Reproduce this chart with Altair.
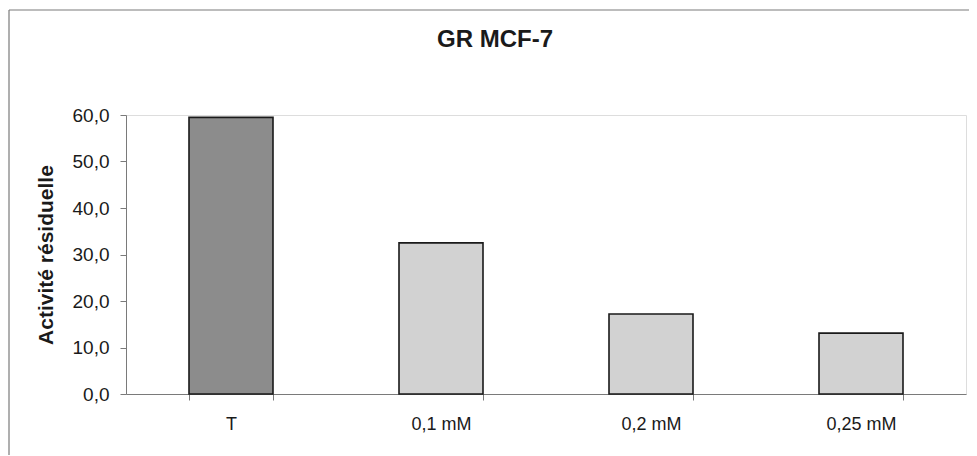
import altair as alt
import pandas as pd

categories = ["T", "0,1 mM", "0,2 mM", "0,25 mM"]
values = [59.5, 32.5, 17.2, 13.1]
fill_colors = ["#8c8c8c", "#d2d2d2", "#d2d2d2", "#d2d2d2"]
y_ticks = [0, 10, 20, 30, 40, 50, 60]

df = pd.DataFrame({"cat": categories, "val": values})
FONT = "Liberation Sans"

bars = alt.Chart(df).mark_bar(stroke="#1a1a1a", strokeWidth=1.6).encode(
    x=alt.X("cat:N", sort=categories,
            scale=alt.Scale(paddingInner=0.6, paddingOuter=0.3),
            axis=alt.Axis(title=None, labelAngle=0, tickBand="extent",
                          tickSize=6, labelPadding=15, labelFontSize=18,
                          labelFont=FONT, labelColor="#1a1a1a",
                          domainColor="#7a7a7a", tickColor="#7a7a7a")),
    y=alt.Y("val:Q", scale=alt.Scale(domain=[0, 60], nice=False),
            axis=alt.Axis(title="Activité résiduelle", values=y_ticks,
                          labelExpr="replace(format(datum.value, '.1f'), '.', ',')",
                          tickSize=6, labelPadding=11, labelFontSize=19,
                          labelFont=FONT, labelColor="#1a1a1a",
                          titleFont=FONT, titleFontSize=21, titleFontWeight="bold",
                          titleColor="#1a1a1a", titleX=-80, titleY=139.5,
                          titleBaseline="middle", titleAlign="center",
                          domainColor="#7a7a7a", tickColor="#7a7a7a", grid=False)),
    color=alt.Color("cat:N", scale=alt.Scale(domain=categories, range=fill_colors), legend=None),
)

frame_df = pd.DataFrame({"a": [0]})
left_line = alt.Chart(frame_df).mark_rule(color="#7a7a7a", strokeWidth=1.2).encode(
    x=alt.value(-117), y=alt.value(-105), y2=alt.value(340))
top_line = alt.Chart(frame_df).mark_rule(color="#7a7a7a", strokeWidth=1.2).encode(
    x=alt.value(-117), x2=alt.value(860), y=alt.value(-105))

chart = alt.layer(left_line, top_line, bars).properties(
    width=840, height=279,
    autosize=alt.AutoSizeParams(type="none"),
    padding={"left": 118, "top": 107, "right": 3, "bottom": 62},
    title=alt.TitleParams(text="GR MCF-7", font=FONT, fontSize=24, fontWeight="bold",
                          color="#1a1a1a", anchor="middle", dx=-51, offset=0, dy=67,
                          baseline="bottom"),
).configure_view(stroke=None).configure(background="white")

chart.save("out.html", embed_options={"renderer": "svg", "actions": False})
